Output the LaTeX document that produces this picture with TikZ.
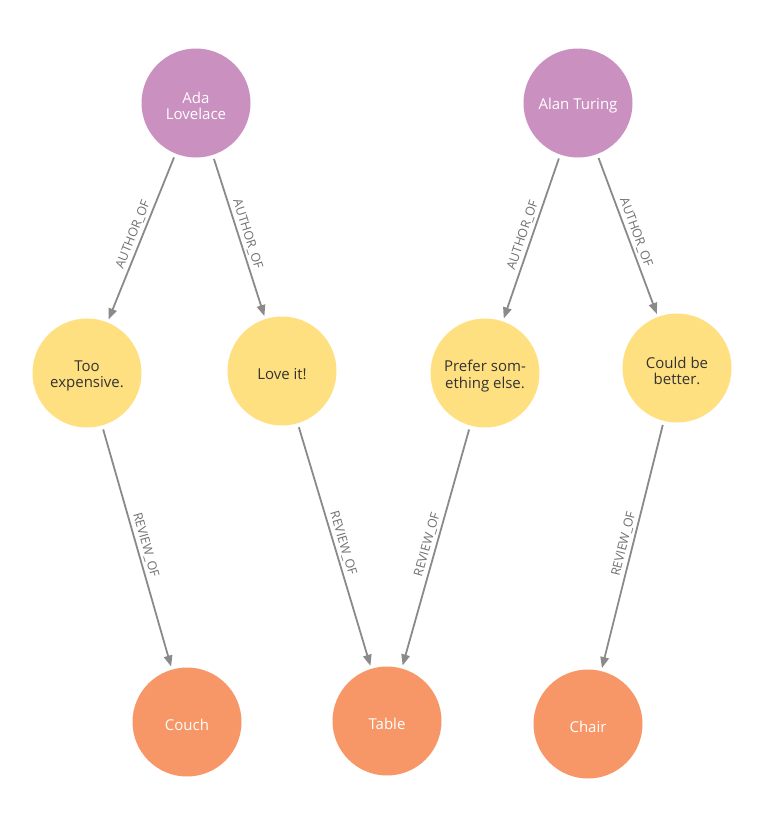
\documentclass[tikz,border=0pt]{standalone}
\usepackage{fontspec}
\setmainfont{Open Sans}
\usetikzlibrary{arrows.meta}
\definecolor{person}{HTML}{C990C0}
\definecolor{review}{HTML}{FFE081}
\definecolor{product}{HTML}{F79767}
\definecolor{edgegray}{HTML}{8A8A8A}
\definecolor{labelgray}{HTML}{707070}
\definecolor{darktext}{HTML}{333333}
\tikzset{
  gnode/.style={circle, minimum size=109pt, inner sep=0pt},
  gtext/.style={align=center, inner sep=0pt, yshift=-3pt,
    font=\fontsize{15}{16.5}\selectfont},
  personnode/.style={gnode, fill=person,
    label={[gtext, text=white]center:{#1}}},
  reviewnode/.style={gnode, fill=review,
    label={[gtext, text=darktext]center:{#1}}},
  productnode/.style={gnode, fill=product,
    label={[gtext, text=white]center:{#1}}},
  rel/.style={draw=edgegray, line width=1.8pt,
    -{Triangle[length=11pt,width=8.5pt]},
    shorten <=4pt, shorten >=3pt},
  rellabel/.style={sloped, above=1.5pt, text=labelgray, inner sep=1pt,
    font=\fontsize{12.5}{14}\selectfont}
}
\begin{document}
\begin{tikzpicture}[x=1pt,y=-1pt]
  \useasboundingbox (0,0) rectangle (768,827);
  \fill[white] (0,0) rectangle (768,827);

  % people
  \node[personnode={Ada\\Lovelace}] (ada) at (196,103) {};
  \node[personnode={Alan Turing}] (alan) at (578,103) {};

  % reviews
  \node[reviewnode={Too\\expensive.}] (too) at (87,373) {};
  \node[reviewnode={Love it!}] (love) at (282,371) {};
  \node[reviewnode={Prefer som-\\ething else.}] (prefer) at (485,373) {};
  \node[reviewnode={Could be\\better.}] (could) at (677,368) {};

  % products
  \node[productnode={Couch}] (couch) at (187,722) {};
  \node[productnode={Table}] (table) at (387,721) {};
  \node[productnode={Chair}] (chair) at (588,724) {};

  % authorship
  \draw[rel] (ada) -- node[rellabel] {AUTHOR\_OF} (too);
  \draw[rel] (ada) -- node[rellabel] {AUTHOR\_OF} (love);
  \draw[rel] (alan) -- node[rellabel] {AUTHOR\_OF} (prefer);
  \draw[rel] (alan) -- node[rellabel] {AUTHOR\_OF} (could);

  % review targets
  \draw[rel] (too) -- node[rellabel] {REVIEW\_OF} (couch);
  \draw[rel] (love) -- node[rellabel] {REVIEW\_OF} (table);
  \draw[rel] (prefer) -- node[rellabel] {REVIEW\_OF} (table);
  \draw[rel] (could) -- node[rellabel] {REVIEW\_OF} (chair);
\end{tikzpicture}
\end{document}
